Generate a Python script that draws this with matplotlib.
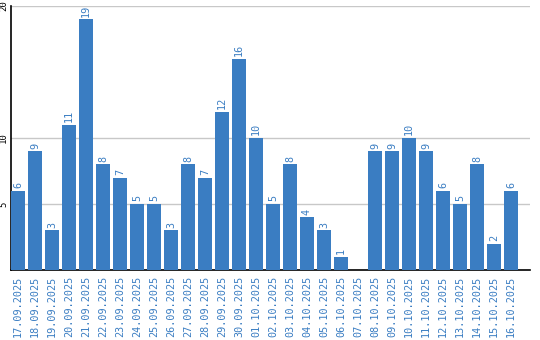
import matplotlib
matplotlib.use("Agg")
import matplotlib.pyplot as plt

dates = ["17.09.2025", "18.09.2025", "19.09.2025", "20.09.2025", "21.09.2025",
         "22.09.2025", "23.09.2025", "24.09.2025", "25.09.2025", "26.09.2025",
         "27.09.2025", "28.09.2025", "29.09.2025", "30.09.2025", "01.10.2025",
         "02.10.2025", "03.10.2025", "04.10.2025", "05.10.2025", "06.10.2025",
         "07.10.2025", "08.10.2025", "09.10.2025", "10.10.2025", "11.10.2025",
         "12.10.2025", "13.10.2025", "14.10.2025", "15.10.2025", "16.10.2025"]
counts = [6, 9, 3, 11, 19, 8, 7, 5, 5, 3, 8, 7, 12, 16, 10,
          5, 8, 4, 3, 1, 0, 9, 9, 10, 9, 6, 5, 8, 2, 6]
yticks = [5, 10, 20]

blue = "#3a7dc2"
mono = "DejaVu Sans Mono"

fig = plt.figure(figsize=(5.4, 3.4), dpi=100)
ax = fig.add_axes([11 / 540, 1 - 270 / 340, 519 / 540, 264 / 340])

x = list(range(len(counts)))
ax.bar(x, counts, width=0.82, color=blue, zorder=3)

# value labels above bars (zero bar gets none)
for xi, v in zip(x, counts):
    if v > 0:
        ax.text(xi, v + 0.2, str(v), rotation=90, ha="center", va="bottom",
                color=blue, fontsize=7.3, family=mono)

ax.set_xlim(-0.41, 30.12)
ax.set_ylim(0, 20)
ax.set_yticks(yticks)
ax.set_yticklabels([str(t) for t in yticks], rotation=90, va="center",
                   fontsize=6.5, family=mono)
ax.yaxis.grid(True, color="#c8c8c8", linewidth=1, zorder=0)
ax.tick_params(axis="y", length=0, pad=2)

ax.set_xticks(x)
ax.set_xticklabels(dates, rotation=90, color=blue, fontsize=7.3, family=mono)
ax.tick_params(axis="x", length=0, pad=4)

for s in ["top", "right"]:
    ax.spines[s].set_visible(False)
ax.spines["left"].set_linewidth(1.2)
ax.spines["bottom"].set_linewidth(1.2)

fig.savefig("out.png", dpi=100)
